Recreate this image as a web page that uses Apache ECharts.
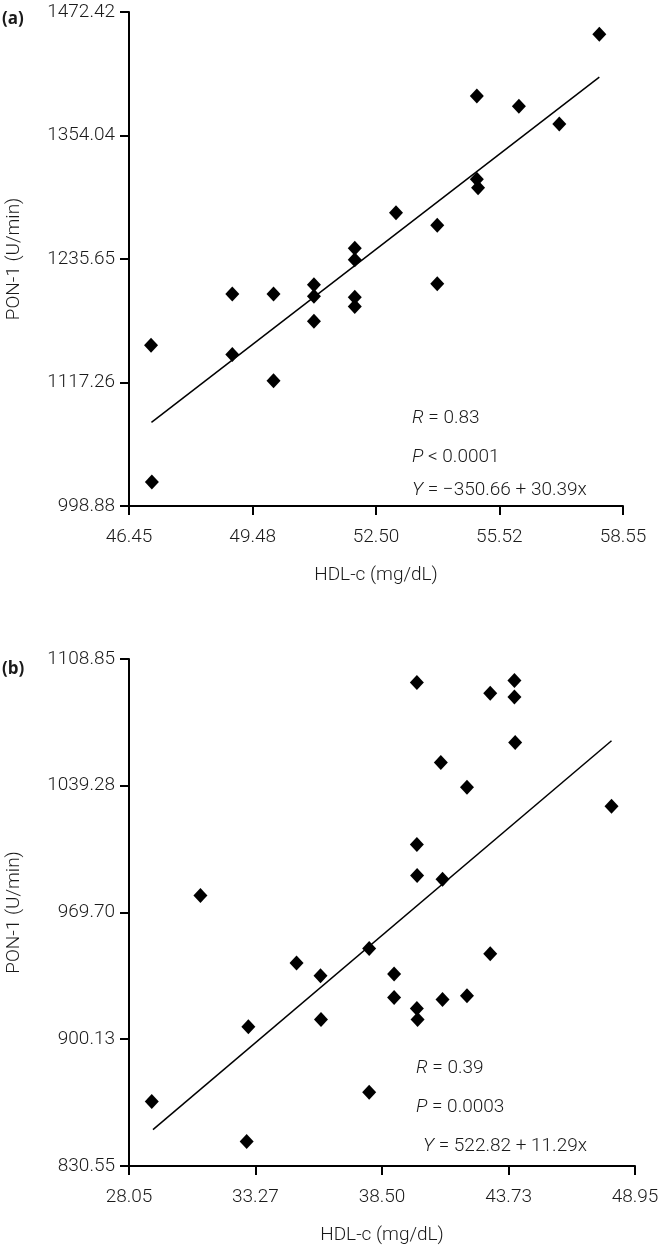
<!DOCTYPE html>
<html><head><meta charset="utf-8">
<script src="https://cdn.jsdelivr.net/npm/echarts@6/dist/echarts.min.js"></script>
<style>html,body{margin:0;padding:0;background:#fff}#c{width:664px;height:1247px}</style>
</head><body><div id="c"></div>
<script>
// ---- Panel (a) ----
const aXTicks = [46.45, 49.48, 52.50, 55.52, 58.55];
const aYTicks = [998.88, 1117.26, 1235.65, 1354.04, 1472.42];
const aHDL = [57.97, 54.97, 56.00, 56.99, 54.97, 55.00, 52.99, 54.00, 51.98, 51.98, 54.00, 50.98, 48.98, 49.99, 50.98, 51.98, 51.98, 50.98, 46.99, 48.98, 49.99, 47.01];
const aPON = [1451, 1392, 1382, 1365, 1312, 1304, 1280, 1268, 1246, 1235, 1212, 1211, 1202, 1202, 1200, 1199, 1190, 1176, 1153, 1144, 1119, 1022];
const aFitX = [47.00, 57.97];
const aFitY = [1079, 1410];
const aStats = ['{i|R} = 0.83', '{i|P} < 0.0001', '{i|Y} = \u2212350.66 + 30.39x'];

// ---- Panel (b) ----
const bXTicks = [28.05, 33.27, 38.50, 43.73, 48.95];
const bYTicks = [830.55, 900.13, 969.70, 1039.28, 1108.85];
const bHDL = [39.94, 43.97, 42.97, 43.97, 44.00, 40.93, 42.01, 47.98, 39.94, 39.95, 41.00, 31.00, 37.97, 42.97, 34.97, 35.96, 39.00, 39.00, 41.00, 42.01, 39.94, 39.97, 35.98, 32.98, 37.97, 28.99, 32.91];
const bPON = [1096, 1097, 1090, 1088, 1063, 1052, 1038.5, 1028, 1007, 990, 988, 979, 950, 947, 942, 935, 936, 923, 922, 924, 917, 911, 911, 907, 871, 866, 844];
const bFitX = [29.04, 47.98];
const bFitY = [850.5, 1064];
const bStats = ['{i|R} = 0.39', '{i|P} = 0.0003', '{i|Y} = 522.82 + 11.29x'];

const xName = 'HDL-c (mg/dL)';
const yName = 'PON-1 (U/min)';

const FONT = "Roboto, 'Open Sans', sans-serif";
const FS = 19;
const FW = 300;
const TXT = '#1a1a1a';

function zip(xs, ys) { return xs.map((x, i) => [x, ys[i]]); }

function xAxis(gi, ticks) {
  return {
    type: 'value', gridIndex: gi, min: ticks[0], max: ticks[ticks.length - 1],
    splitLine: { show: false },
    axisLine: { onZero: false, lineStyle: { color: '#000', width: 2 } },
    axisTick: { customValues: ticks, length: 9, lineStyle: { color: '#000', width: 2 } },
    axisLabel: { customValues: ticks, formatter: v => v.toFixed(2), margin: 22, color: TXT, fontSize: FS, fontWeight: FW, fontFamily: FONT },
    name: xName, nameLocation: 'middle', nameGap: 60,
    nameTextStyle: { color: TXT, fontSize: FS, fontWeight: FW, fontFamily: FONT }
  };
}
function yAxis(gi, ticks) {
  return {
    type: 'value', gridIndex: gi, min: ticks[0], max: ticks[ticks.length - 1],
    splitLine: { show: false },
    axisLine: { onZero: false, lineStyle: { color: '#000', width: 2 } },
    axisTick: { customValues: ticks, length: 9, lineStyle: { color: '#000', width: 2 } },
    axisLabel: { customValues: ticks, formatter: v => v.toFixed(2), margin: 14, color: TXT, fontSize: FS, fontWeight: FW, fontFamily: FONT },
    name: yName, nameLocation: 'middle', nameGap: 105,
    nameTextStyle: { color: TXT, fontSize: FS, fontWeight: FW, fontFamily: FONT }
  };
}
function scatter(i, xs, ys) {
  return { type: 'scatter', xAxisIndex: i, yAxisIndex: i, data: zip(xs, ys), symbol: 'diamond', symbolSize: [14, 15], itemStyle: { color: '#000', opacity: 1 }, silent: true, z: 3 };
}
function fit(i, xs, ys) {
  return { type: 'line', xAxisIndex: i, yAxisIndex: i, data: zip(xs, ys), symbol: 'none', lineStyle: { color: '#000', width: 1.5 }, silent: true, z: 2 };
}
function statText(lines, pos) {
  return lines.map((t, k) => ({
    type: 'text', x: pos[k][0], y: pos[k][1],
    style: { text: t, fill: TXT, fontSize: FS, fontWeight: FW, fontFamily: FONT, verticalAlign: 'middle',
      rich: { i: { fontStyle: 'italic', fontSize: FS, fontWeight: FW, fontFamily: FONT, fill: TXT } } }
  }));
}

const chart = echarts.init(document.getElementById('c'), null, { renderer: 'canvas' });
chart.setOption({
  animation: false,
  backgroundColor: '#fff',
  grid: [
    { left: 129, top: 12, width: 494, height: 494, outerBoundsMode: 'none', containLabel: false },
    { left: 129, top: 659, width: 506, height: 507, outerBoundsMode: 'none', containLabel: false }
  ],
  xAxis: [xAxis(0, aXTicks), xAxis(1, bXTicks)],
  yAxis: [yAxis(0, aYTicks), yAxis(1, bYTicks)],
  series: [scatter(0, aHDL, aPON), fit(0, aFitX, aFitY), scatter(1, bHDL, bPON), fit(1, bFitX, bFitY)],
  graphic: [
    { type: 'text', x: 2, y: 19, style: { text: '(a)', fill: TXT, fontSize: 17, fontWeight: 'bold', verticalAlign: 'middle', fontFamily: "'Open Sans', 'Noto Sans', sans-serif" } },
    { type: 'text', x: 2, y: 669, style: { text: '(b)', fill: TXT, fontSize: 17, fontWeight: 'bold', verticalAlign: 'middle', fontFamily: "'Open Sans', 'Noto Sans', sans-serif" } }
  ].concat(
    statText(aStats, [[412, 418], [412, 457.5], [412, 490.5]]),
    statText(bStats, [[416, 1068], [416, 1107], [423, 1146]])
  )
});
</script></body></html>
